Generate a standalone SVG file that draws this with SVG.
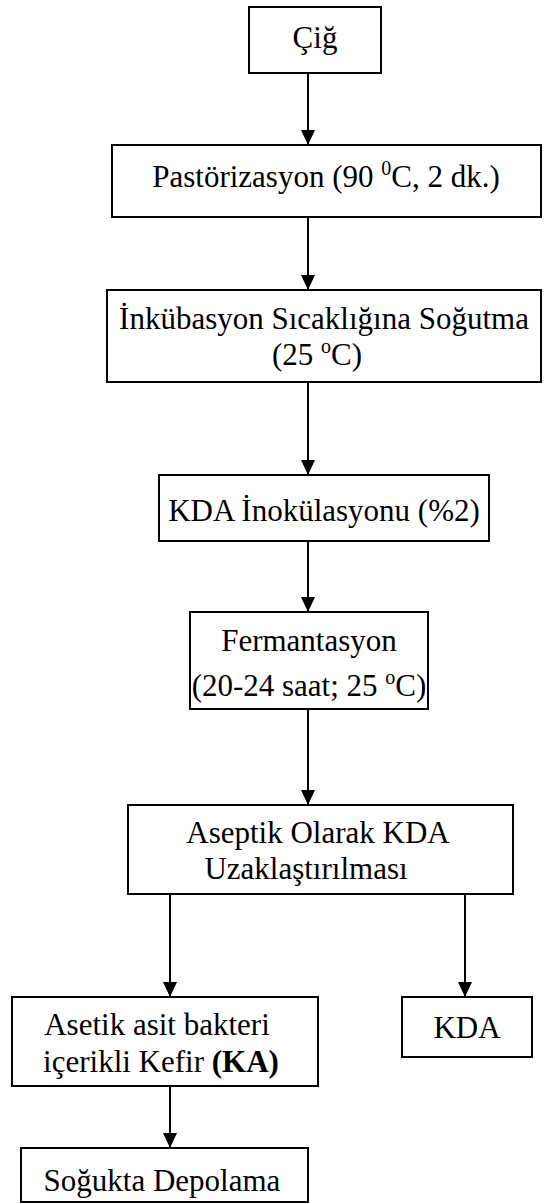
<svg xmlns="http://www.w3.org/2000/svg" width="544" height="1203" viewBox="0 0 544 1203">
<style>
.box{fill:#fff;stroke:#000;stroke-width:2}
.t{font-family:"Liberation Serif","Times New Roman",serif;font-size:31px;fill:#000;text-anchor:middle}
.c{stroke:#000;stroke-width:2;fill:none;marker-end:url(#ah)}
.b{font-weight:bold}
</style>
<defs>
<marker id="ah" markerUnits="userSpaceOnUse" markerWidth="16" markerHeight="14" refX="15" refY="7" orient="auto">
<path d="M0,0 L15,7 L0,14 z" fill="#000"/>
</marker>
</defs>
<rect width="544" height="1203" fill="#fff"/>
<g id="connectors">
<line class="c" x1="308" y1="73" x2="308" y2="145"/>
<line class="c" x1="308" y1="217" x2="308" y2="290"/>
<line class="c" x1="308" y1="382" x2="308" y2="475"/>
<line class="c" x1="308" y1="541" x2="308" y2="612"/>
<line class="c" x1="308" y1="709" x2="308" y2="805"/>
<line class="c" x1="170" y1="894" x2="170" y2="997"/>
<line class="c" x1="465" y1="894" x2="465" y2="997"/>
<line class="c" x1="170" y1="1086" x2="170" y2="1148"/>
</g>
<g id="n1"><rect class="box" x="249" y="7" width="132" height="66"/><text class="t" x="315" y="48">Çiğ</text></g>
<g id="n2"><rect class="box" x="112" y="145" width="429" height="72"/><text class="t" x="326" y="187">Pastörizasyon (90 <tspan font-size="20" dy="-12">0</tspan><tspan dy="12">C, 2 dk.)</tspan></text></g>
<g id="n3"><rect class="box" x="107" y="290" width="434" height="92"/><text class="t" x="324" y="329">İnkübasyon Sıcaklığına Soğutma</text><text class="t" x="317" y="365">(25 <tspan font-size="20" dy="-12">o</tspan><tspan dy="12">C)</tspan></text></g>
<g id="n4"><rect class="box" x="159" y="475" width="330" height="66"/><text class="t" x="324" y="521">KDA İnokülasyonu (%2)</text></g>
<g id="n5"><rect class="box" x="190" y="612" width="238" height="97"/><text class="t" x="309" y="651">Fermantasyon</text><text class="t" x="309" y="696">(20-24 saat; 25 <tspan font-size="20" dy="-12">o</tspan><tspan dy="12">C)</tspan></text></g>
<g id="n6"><rect class="box" x="128" y="805" width="385" height="89"/><text class="t" x="318" y="843">Aseptik Olarak KDA</text><text class="t" x="306" y="879">Uzaklaştırılması</text></g>
<g id="n7"><rect class="box" x="12" y="997" width="306" height="89"/><text class="t" x="157" y="1035">Asetik asit bakteri</text><text class="t" x="161" y="1072">içerikli Kefir <tspan class="b">(KA)</tspan></text></g>
<g id="n8"><rect class="box" x="402" y="997" width="130" height="60"/><text class="t" x="467" y="1038">KDA</text></g>
<g id="n9"><rect class="box" x="21" y="1148" width="287" height="54"/><text class="t" x="162" y="1191">Soğukta Depolama</text></g>
</svg>
